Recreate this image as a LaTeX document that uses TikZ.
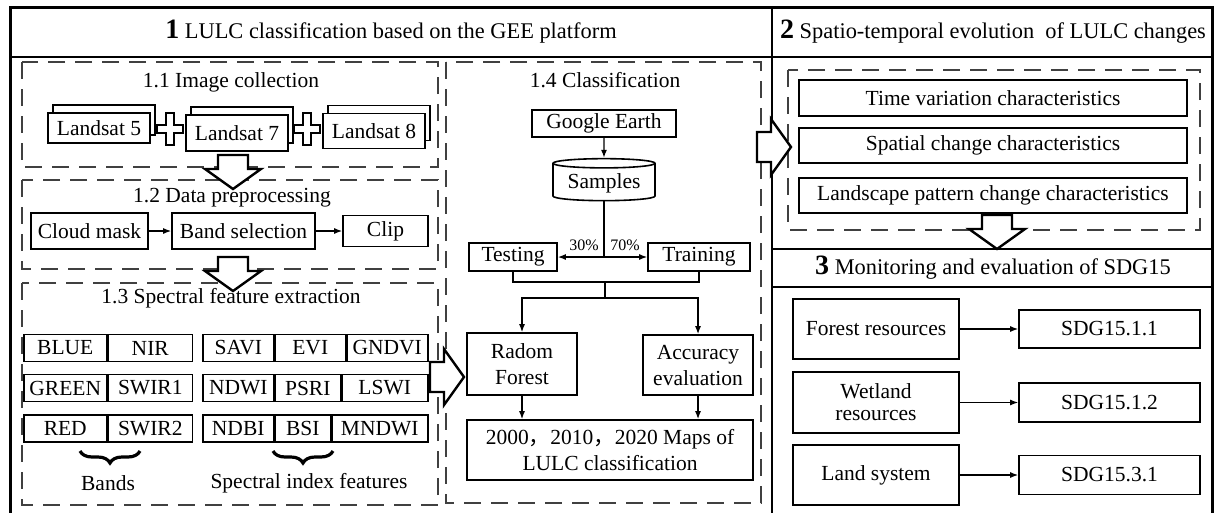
\documentclass[tikz,border=0pt]{standalone}
\usepackage{fontspec}
\setmainfont{Liberation Serif}
\newfontfamily\cjk{Noto Sans CJK SC}
\usetikzlibrary{positioning, arrows.meta, shapes.geometric, shadows, decorations.pathreplacing}

\begin{document}
\begin{tikzpicture}[
        x=1pt, y=-1pt,
        font=\fontsize{21.5}{26}\selectfont,
        box/.style={draw, line width=1.6pt, fill=white, inner sep=2pt, align=center},
        stack/.style={box, copy shadow={shadow xshift=5pt, shadow yshift=8pt, draw=black, fill=white, opacity=1, line width=1.6pt}},
        cell/.style={draw, line width=1.5pt, minimum height=27pt, inner sep=0pt, anchor=west},
        panel/.style={draw=black!75, line width=1.5pt, dash pattern=on 17pt off 10pt},
        title/.style={font=\fontsize{21.5}{26}\selectfont},
        header/.style={font=\fontsize{22.4}{26}\selectfont},
        pct/.style={font=\fontsize{16}{18}\selectfont},
        wire/.style={line width=1.4pt},
        link/.style={wire, ->},
        curly/.style={line width=3.2pt, decorate, decoration={brace, mirror, amplitude=12pt}},
        >={Latex[length=8pt, width=6pt]},
        hollow/.pic={\draw[line width=2.4pt, fill=white] (0,-15) -- (14,-15) -- (14,-28) -- (34,0) -- (14,28) -- (14,15) -- (0,15) -- cycle;},
        cross/.pic={\draw[line width=1.4pt, fill=white] (-4,-16) -- (4,-16) -- (4,-4) -- (13,-4) -- (13,4) -- (4,4) -- (4,16) -- (-4,16) -- (-4,4) -- (-13,4) -- (-13,-4) -- (-4,-4) -- cycle;},
    ]
    \useasboundingbox (0,0) rectangle (1214,512);
    \clip (0,0) rectangle (1214,512);

    % frame and section rules
    \draw[line width=3pt] (10,7) rectangle (1212,530);
    \draw[line width=2.5pt] (10,57) -- (1212,57);
    \draw[line width=2pt] (772,7) -- (772,530);
    \draw[line width=2.5pt] (772,249) rectangle (1212,287);

    \node[header] (head1) at (391,32) {{\fontsize{28}{28}\selectfont\bfseries 1} LULC classification based on the GEE platform};
    \node[header] (head2) at (993,32) {{\fontsize{28}{28}\selectfont\bfseries 2} Spatio-temporal evolution\ \ of LULC changes};
    \node[header] (head3) at (993,268) {{\fontsize{28}{28}\selectfont\bfseries 3} Monitoring and evaluation of SDG15};

    % dashed sub-panels
    \draw[panel] (22,62) rectangle (438,167);
    \draw[panel] (22,180) rectangle (438,269);
    \draw[panel] (22,283) rectangle (438,505);
    \draw[panel] (446,62) rectangle (761,503);
    \draw[panel] (788,70) rectangle (1200,230);

    \node[title] (t11) at (231,82) {1.1 Image collection};
    \node[title] (t12) at (232,198) {1.2 Data preprocessing};
    \node[title] (t13) at (231,298) {1.3 Spectral feature extraction};
    \node[title] (t14) at (605,80) {1.4 Classification};

    % 1.1 image collection
    \node[stack, minimum width=102pt, minimum height=30pt] (ls5) at (99,128) {Landsat 5};
    \node[stack, minimum width=102pt, minimum height=36pt] (ls7) at (237,133) {Landsat 7};
    \node[stack, minimum width=102pt, minimum height=35pt] (ls8) at (374,131) {Landsat 8};
    \pic at (170,129) {cross};
    \pic at (307,129) {cross};

    % 1.2 preprocessing
    \node[box, minimum width=117pt, minimum height=36pt] (cloud) at (89.5,231) {Cloud mask};
    \node[box, minimum width=143pt, minimum height=36pt] (bandsel) at (243.5,231) {Band selection};
    \node[box, minimum width=85pt, minimum height=31pt] (clip) at (385.5,231) {Clip};
    \draw[link] (cloud) -- (bandsel);
    \draw[link] (bandsel) -- (clip);

    % 1.3 bands and indices
    \foreach \y/\a/\b [count=\i] in {348/BLUE/NIR, 388/GREEN/SWIR1, 428.5/RED/SWIR2} {
        \node[cell, minimum width=83pt] (bd\i) at (23,\y) {\a};
        \node[cell, minimum width=84pt] (bw\i) at (bd\i.east) {\b};
    }
    \foreach \y/\a/\b/\c/\d [count=\i] in {348/SAVI/EVI/GNDVI/343, 388/NDWI/PSRI/LSWI/338, 428.5/NDBI/BSI/MNDWI/328} {
        \node[cell, minimum width=71pt] (ia\i) at (202,\y) {\a};
        \node[cell, minimum width={(\d-273)*1pt}] (ib\i) at (ia\i.east) {\b};
        \node[cell, minimum width={(424-\d)*1pt}] (ic\i) at (ib\i.east) {\c};
    }
    \draw[curly] (80,451) -- (140,451);
    \draw[curly] (273,451) -- (333,451);
    \node (bandslbl) at (108,483) {Bands};
    \node (idxlbl) at (309,483) {Spectral index features};

    % 1.4 classification
    \node[box, minimum width=144pt, minimum height=27pt] (earth) at (604,123.5) {Google Earth};
    \node[box, cylinder, shape border rotate=90, aspect=0.12, minimum width=102pt, minimum height=42pt] (samples) at (604,183) {Samples};
    \node[box, minimum width=88pt, minimum height=28pt] (testing) at (513,257) {Testing};
    \node[box, minimum width=102pt, minimum height=28pt] (training) at (699,257) {Training};
    \coordinate (split) at (604,257);
    \draw[link] (earth) -- (samples);
    \draw[wire] (samples) -- (split);
    \draw[link] (split) -- (testing);
    \draw[link] (split) -- (training);
    \node[pct] (p30) at (584,245) {30\%};
    \node[pct] (p70) at (625,245) {70\%};

    \node[box, minimum width=110pt, minimum height=62pt] (rf) at (522,364) {Radom\\Forest};
    \node[box, minimum width=110pt, minimum height=60pt] (accuracy) at (698,365) {Accuracy\\evaluation};
    \node[box, minimum width=286pt, minimum height=60pt] (maps) at (610,450) {2000{\cjk ，}2010{\cjk ，}2020 Maps of\\LULC classification};
    \coordinate (merge) at (605,282);
    \coordinate (fork) at (605,298);
    \draw[wire] (testing.south) |- (merge) -| (training.south);
    \draw[wire] (merge) -- (fork);
    \draw[link] (fork) -| (rf);
    \draw[link] (fork) -| (accuracy);
    \draw[link] (rf) -- (rf |- maps.north);
    \draw[link] (accuracy) -- (accuracy |- maps.north);

    % 2 spatio-temporal evolution
    \node[box, minimum width=388pt, minimum height=36pt] (timevar) at (993,98) {Time variation characteristics};
    \node[box, minimum width=388pt, minimum height=35pt] (spatial) at (993,145.5) {Spatial change characteristics};
    \node[box, minimum width=388pt, minimum height=35pt] (landscape) at (993,195.5) {Landscape pattern change characteristics};

    % 3 SDG15 evaluation
    \node[box, minimum width=166pt, minimum height=60pt] (forestres) at (876,329) {Forest resources};
    \node[box, minimum width=166pt, minimum height=61pt, font=\fontsize{21.5}{22}\selectfont] (wetland) at (876,402.5) {Wetland\\resources};
    \node[box, minimum width=166pt, minimum height=60pt] (landsys) at (876,475) {Land system};
    \node[box, minimum width=181pt, minimum height=38pt] (sdga) at (1109.5,329) {SDG15.1.1};
    \node[box, minimum width=181pt, minimum height=39pt] (sdgb) at (1109.5,402.5) {SDG15.1.2};
    \node[box, minimum width=181pt, minimum height=39pt] (sdgc) at (1109.5,475) {SDG15.3.1};
    \draw[link] (forestres) -- (sdga);
    \draw[link] (wetland) -- (sdgb);
    \draw[link] (landsys) -- (sdgc);

    % block arrows between panels
    \pic[rotate=-90] at (233,155) {hollow};
    \pic[rotate=-90] at (233,257) {hollow};
    \pic at (430,377) {hollow};
    \pic at (757,147) {hollow};
    \pic[rotate=-90] at (997,215) {hollow};
\end{tikzpicture}
\end{document}
